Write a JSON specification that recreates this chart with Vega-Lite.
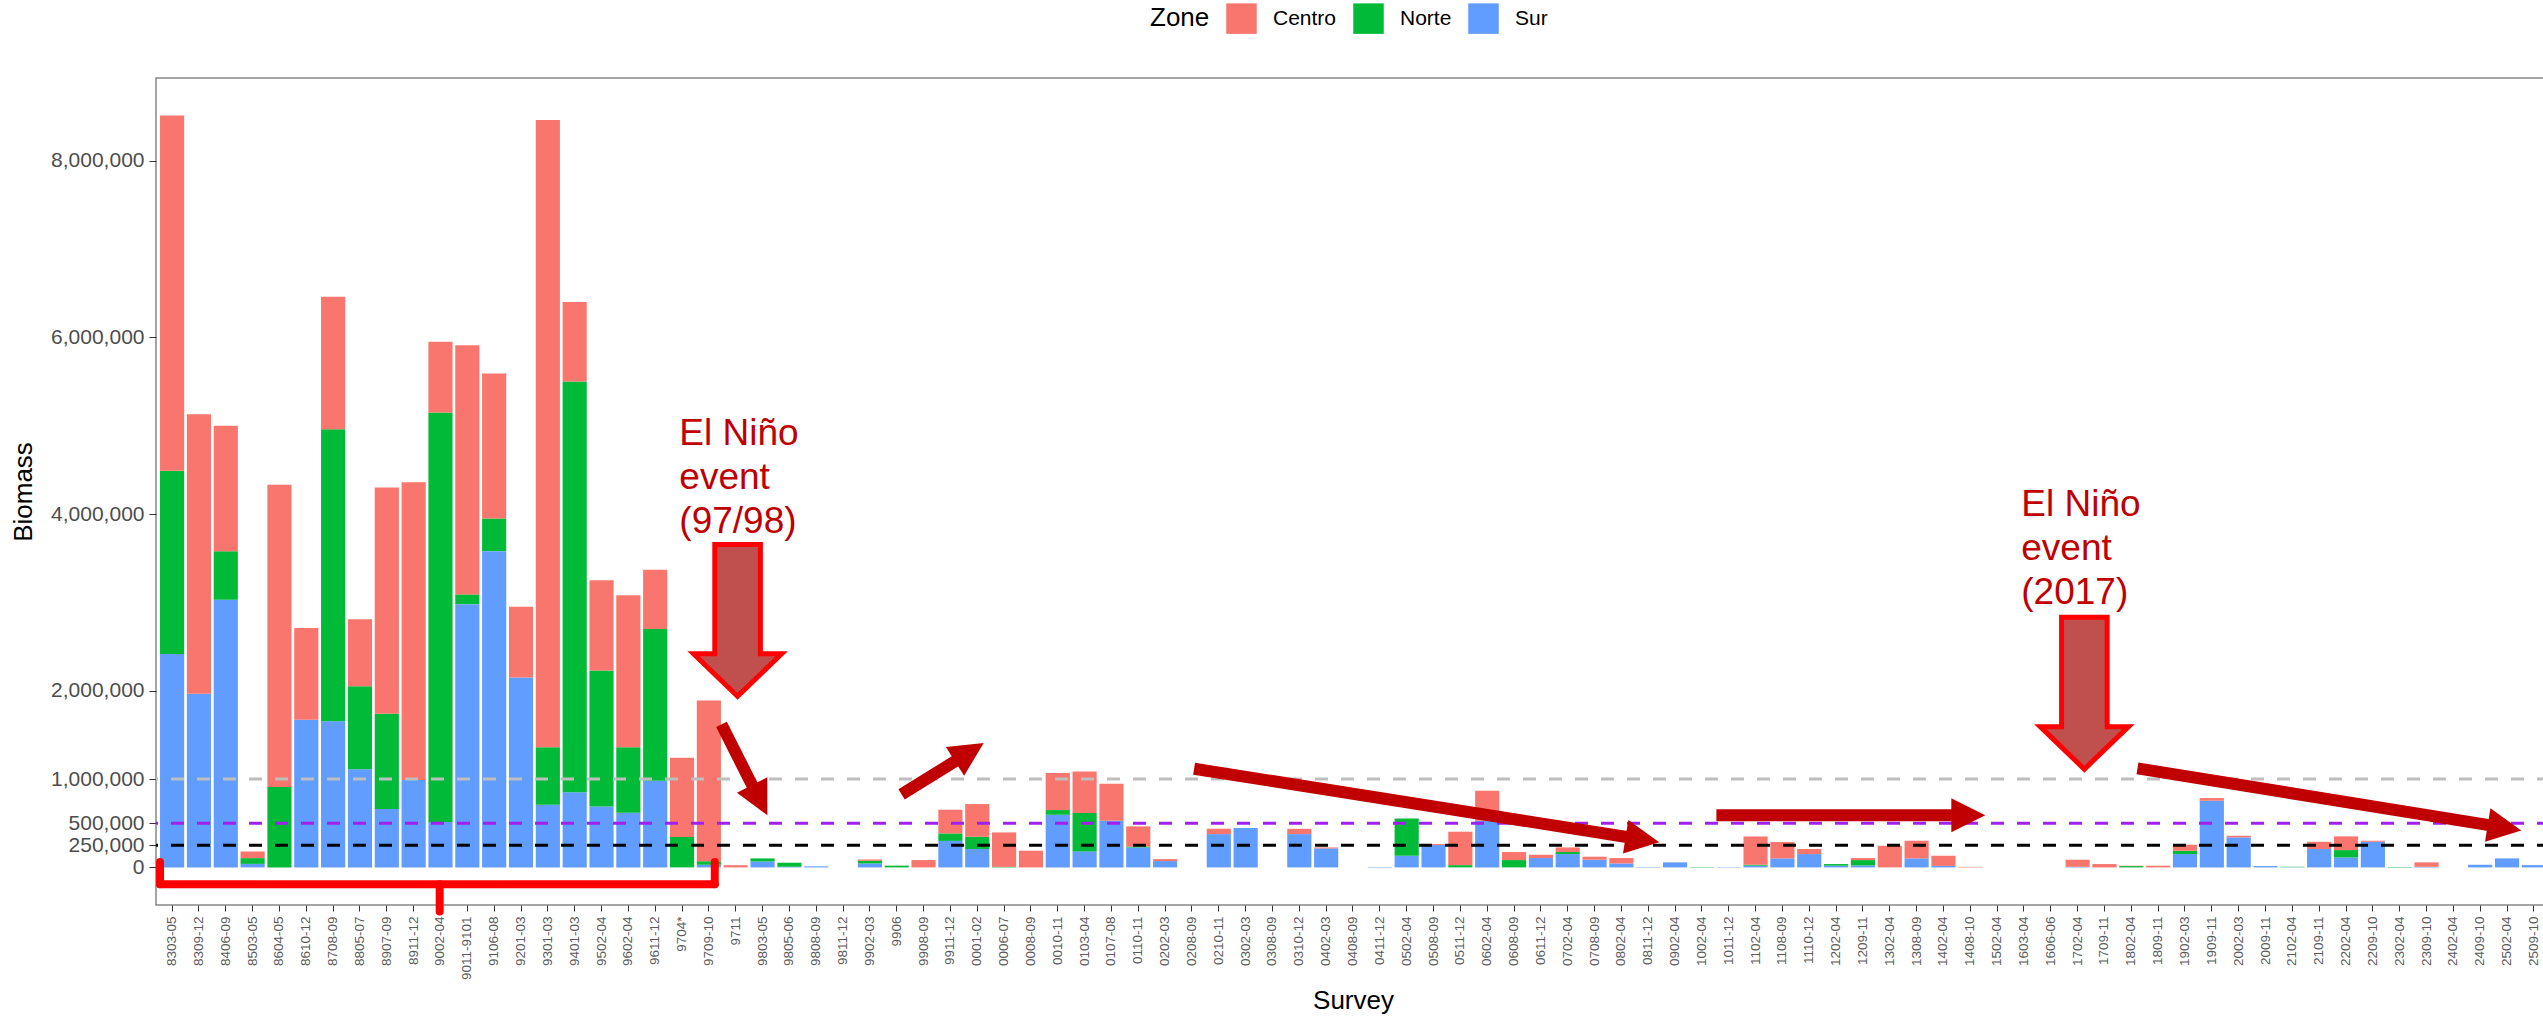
{
  "$schema": "https://vega.github.io/schema/vega-lite/v6.json",
  "autosize": {"type": "none"},
  "width": 2394,
  "height": 827,
  "padding": {"left": 156, "top": 78, "right": -7, "bottom": 112},
  "background": "white",
  "config": {
    "font": "Liberation Sans",
    "view": {"stroke": "#888888", "strokeWidth": 1.5},
    "axis": {"domain": false, "grid": false, "labelFont": "Liberation Sans", "titleFont": "Liberation Sans", "titleFontWeight": "normal", "tickColor": "#333333", "labelColor": "#4d4d4d", "titleColor": "#000000"}
  },
  "datasets": {
    "bars": [
      {"Survey": "8303-05", "Zone": "Sur", "Biomass": 2415000}, {"Survey": "8303-05", "Zone": "Norte", "Biomass": 2075000}, {"Survey": "8303-05", "Zone": "Centro", "Biomass": 4020000},
      {"Survey": "8309-12", "Zone": "Sur", "Biomass": 1965000}, {"Survey": "8309-12", "Zone": "Centro", "Biomass": 3165000},
      {"Survey": "8406-09", "Zone": "Sur", "Biomass": 3030000}, {"Survey": "8406-09", "Zone": "Norte", "Biomass": 550000}, {"Survey": "8406-09", "Zone": "Centro", "Biomass": 1420000},
      {"Survey": "8503-05", "Zone": "Sur", "Biomass": 40000}, {"Survey": "8503-05", "Zone": "Norte", "Biomass": 65000}, {"Survey": "8503-05", "Zone": "Centro", "Biomass": 75000},
      {"Survey": "8604-05", "Zone": "Norte", "Biomass": 910000}, {"Survey": "8604-05", "Zone": "Centro", "Biomass": 3420000},
      {"Survey": "8610-12", "Zone": "Sur", "Biomass": 1670000}, {"Survey": "8610-12", "Zone": "Centro", "Biomass": 1040000},
      {"Survey": "8708-09", "Zone": "Sur", "Biomass": 1655000}, {"Survey": "8708-09", "Zone": "Norte", "Biomass": 3305000}, {"Survey": "8708-09", "Zone": "Centro", "Biomass": 1500000},
      {"Survey": "8805-07", "Zone": "Sur", "Biomass": 1110000}, {"Survey": "8805-07", "Zone": "Norte", "Biomass": 940000}, {"Survey": "8805-07", "Zone": "Centro", "Biomass": 760000},
      {"Survey": "8907-09", "Zone": "Sur", "Biomass": 660000}, {"Survey": "8907-09", "Zone": "Norte", "Biomass": 1080000}, {"Survey": "8907-09", "Zone": "Centro", "Biomass": 2560000},
      {"Survey": "8911-12", "Zone": "Sur", "Biomass": 990000}, {"Survey": "8911-12", "Zone": "Centro", "Biomass": 3370000},
      {"Survey": "9002-04", "Zone": "Sur", "Biomass": 515000}, {"Survey": "9002-04", "Zone": "Norte", "Biomass": 4635000}, {"Survey": "9002-04", "Zone": "Centro", "Biomass": 800000},
      {"Survey": "9011-9101", "Zone": "Sur", "Biomass": 2980000}, {"Survey": "9011-9101", "Zone": "Norte", "Biomass": 110000}, {"Survey": "9011-9101", "Zone": "Centro", "Biomass": 2820000},
      {"Survey": "9106-08", "Zone": "Sur", "Biomass": 3580000}, {"Survey": "9106-08", "Zone": "Norte", "Biomass": 370000}, {"Survey": "9106-08", "Zone": "Centro", "Biomass": 1640000},
      {"Survey": "9201-03", "Zone": "Sur", "Biomass": 2150000}, {"Survey": "9201-03", "Zone": "Centro", "Biomass": 800000},
      {"Survey": "9301-03", "Zone": "Sur", "Biomass": 710000}, {"Survey": "9301-03", "Zone": "Norte", "Biomass": 650000}, {"Survey": "9301-03", "Zone": "Centro", "Biomass": 7100000},
      {"Survey": "9401-03", "Zone": "Sur", "Biomass": 850000}, {"Survey": "9401-03", "Zone": "Norte", "Biomass": 4650000}, {"Survey": "9401-03", "Zone": "Centro", "Biomass": 900000},
      {"Survey": "9502-04", "Zone": "Sur", "Biomass": 690000}, {"Survey": "9502-04", "Zone": "Norte", "Biomass": 1540000}, {"Survey": "9502-04", "Zone": "Centro", "Biomass": 1020000},
      {"Survey": "9602-04", "Zone": "Sur", "Biomass": 620000}, {"Survey": "9602-04", "Zone": "Norte", "Biomass": 740000}, {"Survey": "9602-04", "Zone": "Centro", "Biomass": 1720000},
      {"Survey": "9611-12", "Zone": "Sur", "Biomass": 980000}, {"Survey": "9611-12", "Zone": "Norte", "Biomass": 1720000}, {"Survey": "9611-12", "Zone": "Centro", "Biomass": 670000},
      {"Survey": "9704*", "Zone": "Norte", "Biomass": 345000}, {"Survey": "9704*", "Zone": "Centro", "Biomass": 895000},
      {"Survey": "9709-10", "Zone": "Sur", "Biomass": 30000}, {"Survey": "9709-10", "Zone": "Norte", "Biomass": 40000}, {"Survey": "9709-10", "Zone": "Centro", "Biomass": 1820000},
      {"Survey": "9711", "Zone": "Centro", "Biomass": 25000},
      {"Survey": "9803-05", "Zone": "Sur", "Biomass": 68000}, {"Survey": "9803-05", "Zone": "Norte", "Biomass": 34000},
      {"Survey": "9805-06", "Zone": "Sur", "Biomass": 8000}, {"Survey": "9805-06", "Zone": "Norte", "Biomass": 45000},
      {"Survey": "9808-09", "Zone": "Sur", "Biomass": 12000},
      {"Survey": "9902-03", "Zone": "Sur", "Biomass": 45000}, {"Survey": "9902-03", "Zone": "Norte", "Biomass": 30000}, {"Survey": "9902-03", "Zone": "Centro", "Biomass": 15000},
      {"Survey": "9906", "Zone": "Norte", "Biomass": 20000},
      {"Survey": "9908-09", "Zone": "Centro", "Biomass": 83000},
      {"Survey": "9911-12", "Zone": "Sur", "Biomass": 300000}, {"Survey": "9911-12", "Zone": "Norte", "Biomass": 85000}, {"Survey": "9911-12", "Zone": "Centro", "Biomass": 268000},
      {"Survey": "0001-02", "Zone": "Sur", "Biomass": 208000}, {"Survey": "0001-02", "Zone": "Norte", "Biomass": 139000}, {"Survey": "0001-02", "Zone": "Centro", "Biomass": 370000},
      {"Survey": "0006-07", "Zone": "Norte", "Biomass": 6000}, {"Survey": "0006-07", "Zone": "Centro", "Biomass": 390000},
      {"Survey": "0008-09", "Zone": "Centro", "Biomass": 189000},
      {"Survey": "0010-11", "Zone": "Sur", "Biomass": 596000}, {"Survey": "0010-11", "Zone": "Norte", "Biomass": 53000}, {"Survey": "0010-11", "Zone": "Centro", "Biomass": 419000},
      {"Survey": "0103-04", "Zone": "Sur", "Biomass": 181000}, {"Survey": "0103-04", "Zone": "Norte", "Biomass": 434000}, {"Survey": "0103-04", "Zone": "Centro", "Biomass": 472000},
      {"Survey": "0107-08", "Zone": "Sur", "Biomass": 528000}, {"Survey": "0107-08", "Zone": "Centro", "Biomass": 419000},
      {"Survey": "0110-11", "Zone": "Sur", "Biomass": 226000}, {"Survey": "0110-11", "Zone": "Norte", "Biomass": 10000}, {"Survey": "0110-11", "Zone": "Centro", "Biomass": 228000},
      {"Survey": "0202-03", "Zone": "Sur", "Biomass": 72000}, {"Survey": "0202-03", "Zone": "Centro", "Biomass": 22000},
      {"Survey": "0210-11", "Zone": "Sur", "Biomass": 377000}, {"Survey": "0210-11", "Zone": "Centro", "Biomass": 61000},
      {"Survey": "0302-03", "Zone": "Sur", "Biomass": 445000},
      {"Survey": "0310-12", "Zone": "Sur", "Biomass": 377000}, {"Survey": "0310-12", "Zone": "Centro", "Biomass": 60000},
      {"Survey": "0402-03", "Zone": "Sur", "Biomass": 215000}, {"Survey": "0402-03", "Zone": "Centro", "Biomass": 11000},
      {"Survey": "0411-12", "Zone": "Sur", "Biomass": 5000},
      {"Survey": "0502-04", "Zone": "Sur", "Biomass": 132000}, {"Survey": "0502-04", "Zone": "Norte", "Biomass": 423000},
      {"Survey": "0508-09", "Zone": "Sur", "Biomass": 253000}, {"Survey": "0508-09", "Zone": "Centro", "Biomass": 11000},
      {"Survey": "0511-12", "Zone": "Norte", "Biomass": 26000}, {"Survey": "0511-12", "Zone": "Centro", "Biomass": 378000},
      {"Survey": "0602-04", "Zone": "Sur", "Biomass": 528000}, {"Survey": "0602-04", "Zone": "Centro", "Biomass": 340000},
      {"Survey": "0608-09", "Zone": "Norte", "Biomass": 83000}, {"Survey": "0608-09", "Zone": "Centro", "Biomass": 91000},
      {"Survey": "0611-12", "Zone": "Sur", "Biomass": 106000}, {"Survey": "0611-12", "Zone": "Centro", "Biomass": 37000},
      {"Survey": "0702-04", "Zone": "Sur", "Biomass": 151000}, {"Survey": "0702-04", "Zone": "Norte", "Biomass": 23000}, {"Survey": "0702-04", "Zone": "Centro", "Biomass": 52000},
      {"Survey": "0708-09", "Zone": "Sur", "Biomass": 87000}, {"Survey": "0708-09", "Zone": "Centro", "Biomass": 34000},
      {"Survey": "0802-04", "Zone": "Sur", "Biomass": 45000}, {"Survey": "0802-04", "Zone": "Centro", "Biomass": 61000},
      {"Survey": "0811-12", "Zone": "Sur", "Biomass": 5000},
      {"Survey": "0902-04", "Zone": "Sur", "Biomass": 57000},
      {"Survey": "1002-04", "Zone": "Norte", "Biomass": 4000},
      {"Survey": "1011-12", "Zone": "Sur", "Biomass": 4000},
      {"Survey": "1102-04", "Zone": "Sur", "Biomass": 20000}, {"Survey": "1102-04", "Zone": "Norte", "Biomass": 10000}, {"Survey": "1102-04", "Zone": "Centro", "Biomass": 320000},
      {"Survey": "1108-09", "Zone": "Sur", "Biomass": 102000}, {"Survey": "1108-09", "Zone": "Centro", "Biomass": 185000},
      {"Survey": "1110-12", "Zone": "Sur", "Biomass": 151000}, {"Survey": "1110-12", "Zone": "Centro", "Biomass": 57000},
      {"Survey": "1202-04", "Zone": "Sur", "Biomass": 20000}, {"Survey": "1202-04", "Zone": "Norte", "Biomass": 18000},
      {"Survey": "1209-11", "Zone": "Sur", "Biomass": 23000}, {"Survey": "1209-11", "Zone": "Norte", "Biomass": 60000}, {"Survey": "1209-11", "Zone": "Centro", "Biomass": 23000},
      {"Survey": "1302-04", "Zone": "Centro", "Biomass": 245000},
      {"Survey": "1308-09", "Zone": "Sur", "Biomass": 102000}, {"Survey": "1308-09", "Zone": "Centro", "Biomass": 200000},
      {"Survey": "1402-04", "Zone": "Sur", "Biomass": 17000}, {"Survey": "1402-04", "Zone": "Centro", "Biomass": 115000},
      {"Survey": "1408-10", "Zone": "Centro", "Biomass": 6000},
      {"Survey": "1702-04", "Zone": "Sur", "Biomass": 7000}, {"Survey": "1702-04", "Zone": "Centro", "Biomass": 80000},
      {"Survey": "1709-11", "Zone": "Centro", "Biomass": 38000},
      {"Survey": "1802-04", "Zone": "Norte", "Biomass": 15000}, {"Survey": "1802-04", "Zone": "Centro", "Biomass": 4000},
      {"Survey": "1809-11", "Zone": "Centro", "Biomass": 19000},
      {"Survey": "1902-03", "Zone": "Sur", "Biomass": 151000}, {"Survey": "1902-03", "Zone": "Norte", "Biomass": 38000}, {"Survey": "1902-03", "Zone": "Centro", "Biomass": 68000},
      {"Survey": "1909-11", "Zone": "Sur", "Biomass": 755000}, {"Survey": "1909-11", "Zone": "Centro", "Biomass": 30000},
      {"Survey": "2002-03", "Zone": "Sur", "Biomass": 340000}, {"Survey": "2002-03", "Zone": "Centro", "Biomass": 18000},
      {"Survey": "2009-11", "Zone": "Sur", "Biomass": 15000},
      {"Survey": "2102-04", "Zone": "Sur", "Biomass": 3000}, {"Survey": "2102-04", "Zone": "Norte", "Biomass": 4000},
      {"Survey": "2109-11", "Zone": "Sur", "Biomass": 208000}, {"Survey": "2109-11", "Zone": "Centro", "Biomass": 82000},
      {"Survey": "2202-04", "Zone": "Sur", "Biomass": 113000}, {"Survey": "2202-04", "Zone": "Norte", "Biomass": 83000}, {"Survey": "2202-04", "Zone": "Centro", "Biomass": 155000},
      {"Survey": "2209-10", "Zone": "Sur", "Biomass": 290000}, {"Survey": "2209-10", "Zone": "Centro", "Biomass": 12000},
      {"Survey": "2302-04", "Zone": "Norte", "Biomass": 5000},
      {"Survey": "2309-10", "Zone": "Sur", "Biomass": 7000}, {"Survey": "2309-10", "Zone": "Centro", "Biomass": 50000},
      {"Survey": "2409-10", "Zone": "Sur", "Biomass": 30000},
      {"Survey": "2502-04", "Zone": "Sur", "Biomass": 102000},
      {"Survey": "2509-10", "Zone": "Sur", "Biomass": 26000}
    ],
    "shafts": [
      {"x": 20.47, "y": 1619000, "x2": 21.71, "y2": 872000},
      {"x": 27.18, "y": 826000, "x2": 29.36, "y2": 1237000},
      {"x": 38.08, "y": 1117000, "x2": 54.38, "y2": 336000},
      {"x": 57.54, "y": 589000, "x2": 66.52, "y2": 589000},
      {"x": 73.23, "y": 1121000, "x2": 86.5, "y2": 470000}
    ],
    "heads": [
      {"x": 22.18, "y": 589000, "angle": 63.3},
      {"x": 30.24, "y": 1407000, "angle": -32.4},
      {"x": 55.41, "y": 286000, "angle": 9.0},
      {"x": 67.56, "y": 589000, "angle": 0},
      {"x": 87.53, "y": 419000, "angle": 9.2}
    ],
    "blocks": [
      {"x": 21.07, "y": 2796000},
      {"x": 71.25, "y": 1972000}
    ],
    "notes": [
      {"x": 18.9, "y": 4778000, "label": "El Niño\nevent\n(97/98)"},
      {"x": 68.9, "y": 3974000, "label": "El Niño\nevent\n(2017)"}
    ],
    "bracket": [
      {"x": -0.45, "y": -192000, "x2": 20.22, "y2": -192000},
      {"x": -0.45, "y": -192000, "x2": -0.45, "y2": 60000},
      {"x": 20.22, "y": -192000, "x2": 20.22, "y2": 60000},
      {"x": 9.97, "y": -192000, "x2": 9.97, "y2": -500000}
    ]
  },
  "resolve": {"scale": {"x": "independent"}, "axis": {"x": "independent"}},
  "layer": [
    {
      "data": {"name": "bars"},
      "mark": {"type": "bar"},
      "encoding": {
        "x": {
          "field": "Survey", "type": "nominal", "sort": null,
          "scale": {"domain": ["8303-05","8309-12","8406-09","8503-05","8604-05","8610-12","8708-09","8805-07","8907-09","8911-12","9002-04","9011-9101","9106-08","9201-03","9301-03","9401-03","9502-04","9602-04","9611-12","9704*","9709-10","9711","9803-05","9805-06","9808-09","9811-12","9902-03","9906","9908-09","9911-12","0001-02","0006-07","0008-09","0010-11","0103-04","0107-08","0110-11","0202-03","0208-09","0210-11","0302-03","0308-09","0310-12","0402-03","0408-09","0411-12","0502-04","0508-09","0511-12","0602-04","0608-09","0611-12","0702-04","0708-09","0802-04","0811-12","0902-04","1002-04","1011-12","1102-04","1108-09","1110-12","1202-04","1209-11","1302-04","1308-09","1402-04","1408-10","1502-04","1603-04","1606-06","1702-04","1709-11","1802-04","1809-11","1902-03","1909-11","2002-03","2009-11","2102-04","2109-11","2202-04","2209-10","2302-04","2309-10","2402-04","2409-10","2502-04","2509-10"], "paddingInner": 0.1, "paddingOuter": 0.15},
          "axis": {"title": "Survey", "labelAngle": -90, "labelFontSize": 13.5, "tickSize": 6, "labelPadding": 5, "titleFontSize": 26, "titlePadding": 8, "labelOverlap": false, "labelColor": "#5a5a5a"}
        },
        "y": {
          "field": "Biomass", "type": "quantitative", "stack": "zero", "title": "Biomass",
          "scale": {"domain": [-425500, 8935500], "nice": false, "zero": false},
          "axis": {"values": [0, 250000, 500000, 1000000, 2000000, 4000000, 6000000, 8000000], "format": ",d", "labelFontSize": 21, "tickSize": 7, "labelPadding": 5, "titleFontSize": 26, "titlePadding": 14}
        },
        "color": {
          "field": "Zone", "type": "nominal",
          "scale": {"domain": ["Centro", "Norte", "Sur"], "range": ["#F8766D", "#00BA38", "#619CFF"]},
          "legend": {"orient": "none", "legendX": 994, "legendY": -75, "direction": "horizontal", "title": "Zone", "titleOrient": "left", "titleAngle": 0, "titleFontSize": 26, "titleFontWeight": "normal", "titleColor": "#000000", "titleBaseline": "middle", "titlePadding": 16, "labelFontSize": 21, "labelColor": "#000000", "symbolType": "square", "symbolSize": 930, "symbolStrokeWidth": 0, "symbolOpacity": 1, "labelOffset": 16, "columnPadding": 16}
        },
        "order": {"field": "Zone", "sort": "descending"}
      }
    },
    {
      "data": {"values": [{"Biomass": 1000000}]},
      "mark": {"type": "rule", "color": "#BEBEBE", "strokeWidth": 3, "strokeDash": [13, 13]},
      "encoding": {"y": {"field": "Biomass", "type": "quantitative", "title": "Biomass", "scale": {"domain": [-425500, 8935500], "nice": false, "zero": false}}}
    },
    {
      "data": {"values": [{"Biomass": 500000}]},
      "mark": {"type": "rule", "color": "#A020F0", "strokeWidth": 3, "strokeDash": [13, 13]},
      "encoding": {"y": {"field": "Biomass", "type": "quantitative", "title": "Biomass", "scale": {"domain": [-425500, 8935500], "nice": false, "zero": false}}}
    },
    {
      "data": {"values": [{"Biomass": 250000}]},
      "mark": {"type": "rule", "color": "#000000", "strokeWidth": 3, "strokeDash": [13, 13]},
      "encoding": {"y": {"field": "Biomass", "type": "quantitative", "title": "Biomass", "scale": {"domain": [-425500, 8935500], "nice": false, "zero": false}}}
    },
    {
      "data": {"name": "shafts"},
      "mark": {"type": "rule", "color": "#C00000", "strokeWidth": 12, "strokeCap": "butt"},
      "encoding": {
        "x": {"field": "x", "type": "quantitative", "scale": {"domain": [-0.6, 88.6], "nice": false, "zero": false}, "axis": null},
        "x2": {"field": "x2"},
        "y": {"field": "y", "type": "quantitative", "title": "Biomass", "scale": {"domain": [-425500, 8935500], "nice": false, "zero": false}},
        "y2": {"field": "y2"}
      }
    },
    {
      "data": {"name": "heads"},
      "mark": {"type": "point", "shape": "M0,0 L-2,-1 L-2,1 Z", "size": 1156, "filled": true, "color": "#C00000", "opacity": 1, "strokeWidth": 0},
      "encoding": {
        "x": {"field": "x", "type": "quantitative", "scale": {"domain": [-0.6, 88.6], "nice": false, "zero": false}, "axis": null},
        "y": {"field": "y", "type": "quantitative", "title": "Biomass", "scale": {"domain": [-425500, 8935500], "nice": false, "zero": false}},
        "angle": {"field": "angle", "type": "quantitative", "scale": null}
      }
    },
    {
      "data": {"name": "blocks"},
      "mark": {"type": "point", "shape": "M-0.3,-1 L0.3,-1 L0.3,0.44 L0.58,0.44 L0,1 L-0.58,0.44 L-0.3,0.44 Z", "size": 23104, "filled": true, "fill": "#C0504D", "stroke": "#FF0000", "strokeWidth": 5, "opacity": 1, "strokeJoin": "miter"},
      "encoding": {
        "x": {"field": "x", "type": "quantitative", "scale": {"domain": [-0.6, 88.6], "nice": false, "zero": false}, "axis": null},
        "y": {"field": "y", "type": "quantitative", "title": "Biomass", "scale": {"domain": [-425500, 8935500], "nice": false, "zero": false}}
      }
    },
    {
      "data": {"name": "notes"},
      "mark": {"type": "text", "align": "left", "baseline": "alphabetic", "fontSize": 37, "lineHeight": 44, "lineBreak": "\n", "color": "#C00000", "font": "Liberation Sans"},
      "encoding": {
        "x": {"field": "x", "type": "quantitative", "scale": {"domain": [-0.6, 88.6], "nice": false, "zero": false}, "axis": null},
        "y": {"field": "y", "type": "quantitative", "title": "Biomass", "scale": {"domain": [-425500, 8935500], "nice": false, "zero": false}},
        "text": {"field": "label"}
      }
    },
    {
      "data": {"name": "bracket"},
      "mark": {"type": "rule", "color": "#FF0000", "strokeWidth": 8, "strokeCap": "round"},
      "encoding": {
        "x": {"field": "x", "type": "quantitative", "scale": {"domain": [-0.6, 88.6], "nice": false, "zero": false}, "axis": null},
        "x2": {"field": "x2"},
        "y": {"field": "y", "type": "quantitative", "title": "Biomass", "scale": {"domain": [-425500, 8935500], "nice": false, "zero": false}},
        "y2": {"field": "y2"}
      }
    }
  ]
}
